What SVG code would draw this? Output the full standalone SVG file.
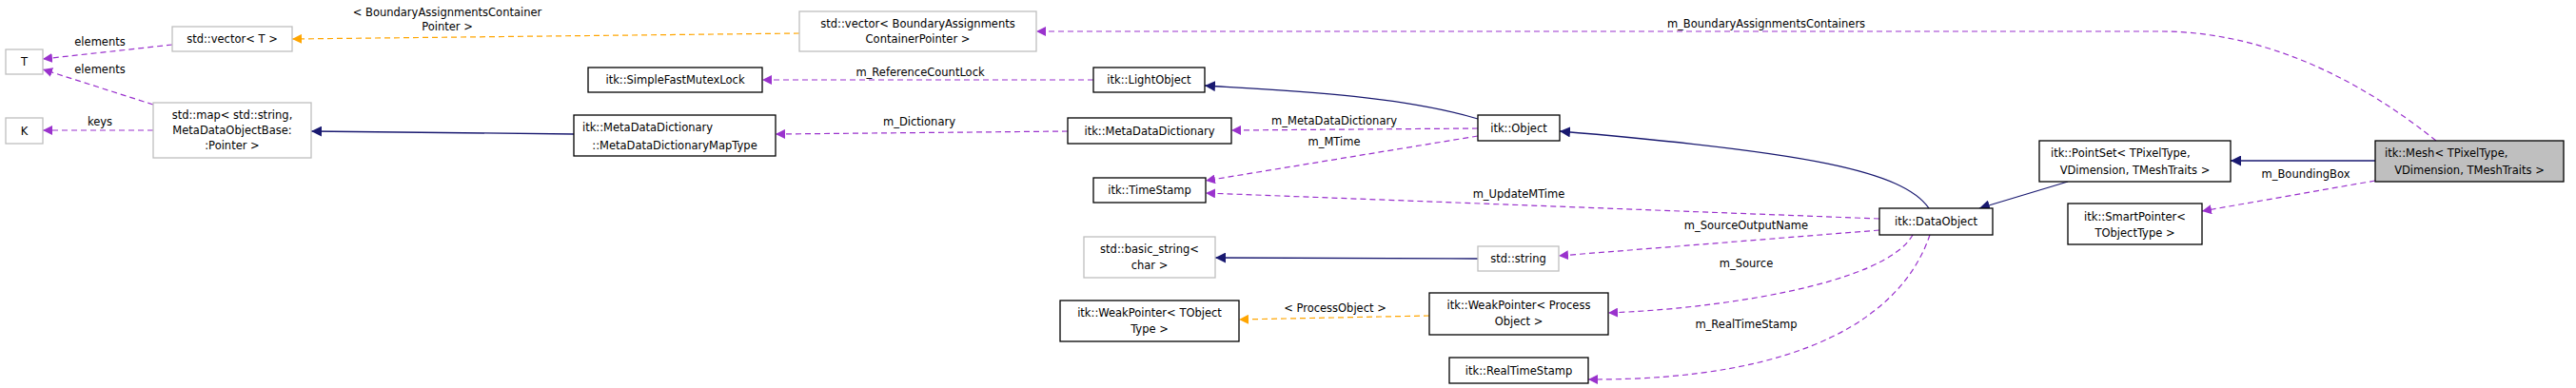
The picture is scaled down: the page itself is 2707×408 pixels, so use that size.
<svg xmlns="http://www.w3.org/2000/svg" width="2707" height="408" viewBox="0 0 2707 408">
<style>
text{font-family:"DejaVu Sans",Verdana,sans-serif;font-size:11.5px;fill:#000}
.n{fill:#fff;stroke:#000;stroke-width:1.3}
.g{fill:#fff;stroke:#bfbfbf;stroke-width:1.3}
.h{fill:#bfbfbf;stroke:#000;stroke-width:1.3}
.m{text-anchor:middle}
.p{fill:none;stroke:#9a32cd;stroke-dasharray:6,4;stroke-width:1.2}
.o{fill:none;stroke:#ffa500;stroke-dasharray:6,4;stroke-width:1.2}
.b{fill:none;stroke:#191970;stroke-width:1.3}
</style>
<defs>
<marker id="ap" viewBox="0 0 10 10" refX="10" refY="5" markerWidth="10" markerHeight="10" markerUnits="userSpaceOnUse" orient="auto"><path d="M0,0L10,5L0,10z" fill="#9a32cd"/></marker>
<marker id="ao" viewBox="0 0 10 10" refX="10" refY="5" markerWidth="10" markerHeight="10" markerUnits="userSpaceOnUse" orient="auto"><path d="M0,0L10,5L0,10z" fill="#ffa500"/></marker>
<marker id="ab" viewBox="0 0 10 10" refX="10" refY="5" markerWidth="11" markerHeight="11" markerUnits="userSpaceOnUse" orient="auto"><path d="M0,0L10,5L0,10z" fill="#191970"/></marker>
</defs>
<g id="edges">
<path class="p" d="M181,47 L45,62" marker-end="url(#ap)"/><text x="105" y="48" class="m">elements</text>
<path class="p" d="M161,110 L45,73" marker-end="url(#ap)"/><text x="105" y="77" class="m">elements</text>
<path class="p" d="M161,137 L45,137" marker-end="url(#ap)"/><text x="105" y="132" class="m">keys</text>
<path class="o" d="M840,35 L307,41" marker-end="url(#ao)"/><text x="470" y="17" class="m">&lt; BoundaryAssignmentsContainer</text><text x="470" y="32" class="m">Pointer &gt;</text>
<path class="b" d="M603,141 L327,138" marker-end="url(#ab)"/>
<path class="p" d="M1149,84 L801,84" marker-end="url(#ap)"/><text x="967" y="80" class="m">m_ReferenceCountLock</text>
<path class="p" d="M1122,138 L815,141" marker-end="url(#ap)"/><text x="966" y="132" class="m">m_Dictionary</text>
<path class="b" d="M1553,125 C1470,100 1350,95 1266,90" marker-end="url(#ab)"/>
<path class="p" d="M1553,135 L1294,137" marker-end="url(#ap)"/><text x="1402" y="131" class="m">m_MetaDataDictionary</text>
<path class="p" d="M1553,143 L1267,190" marker-end="url(#ap)"/><text x="1402" y="153" class="m">m_MTime</text>
<path class="b" d="M2027,219 C2000,180 1900,160 1639,138" marker-end="url(#ab)"/>
<path class="p" d="M1975,230 L1267,203" marker-end="url(#ap)"/><text x="1596" y="208" class="m">m_UpdateMTime</text>
<path class="p" d="M1975,242 L1638,269" marker-end="url(#ap)"/><text x="1835" y="241" class="m">m_SourceOutputName</text>
<path class="b" d="M1553,272 L1277,271" marker-end="url(#ab)"/>
<path class="p" d="M2010,247 C1980,300 1800,325 1690,329" marker-end="url(#ap)"/><text x="1835" y="281" class="m">m_Source</text>
<path class="o" d="M1502,332 L1302,336" marker-end="url(#ao)"/><text x="1403" y="328" class="m">&lt; ProcessObject &gt;</text>
<path class="p" d="M2028,247 C2000,330 1900,400 1669,399" marker-end="url(#ap)"/><text x="1835" y="345" class="m">m_RealTimeStamp</text>
<path class="b" d="M2173,191 L2080,219" marker-end="url(#ab)"/>
<path class="b" d="M2496,169 L2344,169" marker-end="url(#ab)"/>
<path class="p" d="M2496,190 L2314,222" marker-end="url(#ap)"/><text x="2423" y="187" class="m">m_BoundingBox</text>
<path class="p" d="M2560,148 C2450,60 2350,33 2270,33 L1089,33" marker-end="url(#ap)"/><text x="1856" y="29" class="m">m_BoundaryAssignmentsContainers</text>
</g>
<g id="T"><rect class="g" x="6" y="52" width="39" height="26"/><text x="25.5" y="69" class="m">T</text></g>
<g id="K"><rect class="g" x="6" y="124" width="39" height="27"/><text x="25.5" y="142" class="m">K</text></g>
<g id="vecT"><rect class="g" x="181" y="28" width="126" height="26"/><text x="244" y="45" class="m">std::vector&lt; T &gt;</text></g>
<g id="map"><rect class="g" x="161" y="108" width="166" height="58"/><text x="244" y="125" class="m">std::map&lt; std::string,</text><text x="244" y="141" class="m">MetaDataObjectBase:</text><text x="244" y="157" class="m">:Pointer &gt;</text></g>
<g id="mutex"><rect class="n" x="618" y="71" width="183" height="26"/><text x="709.5" y="88" class="m">itk::SimpleFastMutexLock</text></g>
<g id="mapType"><rect class="n" x="603" y="121" width="212" height="43"/><text x="612" y="138">itk::MetaDataDictionary</text><text x="709" y="157" class="m">::MetaDataDictionaryMapType</text></g>
<g id="vecBA"><rect class="g" x="840" y="12" width="249" height="42"/><text x="964.5" y="29" class="m">std::vector&lt; BoundaryAssignments</text><text x="964.5" y="45" class="m">ContainerPointer &gt;</text></g>
<g id="light"><rect class="n" x="1149" y="71" width="117" height="26"/><text x="1207.5" y="88" class="m">itk::LightObject</text></g>
<g id="mdd"><rect class="n" x="1122" y="124" width="172" height="27"/><text x="1208" y="142" class="m">itk::MetaDataDictionary</text></g>
<g id="object"><rect class="n" x="1553" y="121" width="86" height="27"/><text x="1596" y="139" class="m">itk::Object</text></g>
<g id="ts"><rect class="n" x="1149" y="187" width="118" height="26"/><text x="1208" y="204" class="m">itk::TimeStamp</text></g>
<g id="pointset"><rect class="n" x="2143" y="148" width="201" height="43"/><text x="2155" y="165">itk::PointSet&lt; TPixelType,</text><text x="2243.5" y="183" class="m">VDimension, TMeshTraits &gt;</text></g>
<g id="mesh"><rect class="h" x="2496" y="148" width="198" height="43"/><text x="2506" y="165">itk::Mesh&lt; TPixelType,</text><text x="2595" y="183" class="m">VDimension, TMeshTraits &gt;</text></g>
<g id="dataobject"><rect class="n" x="1975" y="219" width="119" height="28"/><text x="2034.5" y="237" class="m">itk::DataObject</text></g>
<g id="bstr"><rect class="g" x="1139" y="249" width="138" height="43"/><text x="1208" y="266" class="m">std::basic_string&lt;</text><text x="1208" y="283" class="m">char &gt;</text></g>
<g id="str"><rect class="g" x="1553" y="259" width="85" height="26"/><text x="1595.5" y="276" class="m">std::string</text></g>
<g id="wpT"><rect class="n" x="1114" y="316" width="188" height="43"/><text x="1208" y="333" class="m">itk::WeakPointer&lt; TObject</text><text x="1208" y="350" class="m">Type &gt;</text></g>
<g id="wpPO"><rect class="n" x="1502" y="308" width="188" height="44"/><text x="1596" y="325" class="m">itk::WeakPointer&lt; Process</text><text x="1596" y="342" class="m">Object &gt;</text></g>
<g id="rts"><rect class="n" x="1523" y="376" width="146" height="27"/><text x="1596" y="394" class="m">itk::RealTimeStamp</text></g>
<g id="sp"><rect class="n" x="2173" y="214" width="141" height="43"/><text x="2243.5" y="232" class="m">itk::SmartPointer&lt;</text><text x="2243.5" y="249" class="m">TObjectType &gt;</text></g>
</svg>
